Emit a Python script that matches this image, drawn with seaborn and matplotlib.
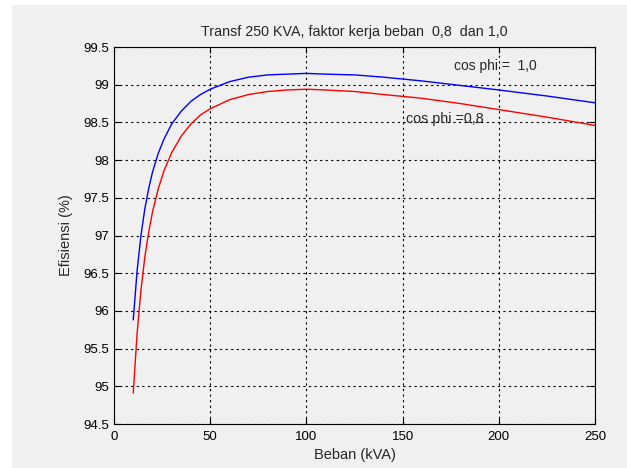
import numpy as np
import pandas as pd
import seaborn as sns
import matplotlib.pyplot as plt
from matplotlib.patches import Rectangle

# Load (kVA) and efficiency (%)
beban = [10, 12, 14, 16, 18, 20, 23, 26, 30, 35, 40, 45, 50, 60, 70, 80, 90,
         100, 110, 125, 140, 160, 180, 200, 225, 250]
eff_pf10 = [95.88, 96.53, 97.00, 97.35, 97.62, 97.84, 98.09, 98.28, 98.48, 98.65,
            98.78, 98.87, 98.94, 99.04, 99.10, 99.13, 99.14, 99.15, 99.14, 99.13,
            99.10, 99.05, 98.99, 98.93, 98.85, 98.76]
eff_pf08 = [94.91, 95.70, 96.27, 96.71, 97.04, 97.31, 97.62, 97.86, 98.10, 98.32,
            98.48, 98.60, 98.68, 98.80, 98.87, 98.91, 98.93, 98.94, 98.93, 98.91,
            98.87, 98.82, 98.75, 98.67, 98.57, 98.46]

title = 'Transf 250 KVA, faktor kerja beban  0,8  dan 1,0'
xticks = [0, 50, 100, 150, 200, 250]
yticks = [94.5, 95, 95.5, 96, 96.5, 97, 97.5, 98, 98.5, 99, 99.5]

df = pd.DataFrame({
    'Beban': beban + beban,
    'Eff': eff_pf10 + eff_pf08,
    'pf': ['1,0'] * len(beban) + ['0,8'] * len(beban),
})

sns.set_style('ticks')
plt.rcParams['font.family'] = ['Liberation Sans', 'DejaVu Sans']
bg = '#f0f0f0'

fig = plt.figure(figsize=(6.27, 4.68), dpi=100, facecolor=bg)
# thin white strip on the top and left like the screenshot
fig.patches.append(Rectangle((0, 0), 12 / 627, 1, transform=fig.transFigure,
                             facecolor='white', edgecolor='none', zorder=-10))
fig.patches.append(Rectangle((0, 463 / 468), 1, 5 / 468, transform=fig.transFigure,
                             facecolor='white', edgecolor='none', zorder=-10))
ax = fig.add_axes([114 / 627, 44 / 468, 481 / 627, 377 / 468])
ax.set_facecolor(bg)

sns.lineplot(data=df, x='Beban', y='Eff', hue='pf',
             palette={'1,0': '#0000ff', '0,8': '#ff0000'},
             linewidth=1.0, legend=False, ax=ax)

ax.set_xlim(0, 250)
ax.set_ylim(94.5, 99.5)
ax.set_xticks(xticks)
ax.set_yticks(yticks)
ax.set_xticklabels([str(t) for t in xticks])
ax.set_yticklabels([('%g' % t) for t in yticks])
ax.grid(True, color='black', linestyle=(0, (2, 3)), linewidth=0.8)
ax.tick_params(direction='in', length=4, labelsize=9.5, top=True, right=True,
               colors='black')
ax.tick_params(axis='x', pad=5)
ax.tick_params(axis='y', pad=3.5)
for s in ax.spines.values():
    s.set_visible(True)
    s.set_color('black')
    s.set_linewidth(0.8)

ax.set_title(title, fontsize=10.3, pad=8)
ax.set_xlabel('Beban (kVA)', fontsize=10.5, va='center')
ax.xaxis.set_label_coords(0.5, (424 - 455) / 377)
ax.set_ylabel('Efisiensi (%)', fontsize=10.5, va='center')
ax.yaxis.set_label_coords((66 - 114) / 481, 0.5)

ax.text(176.7, 99.25, 'cos phi =  1,0', fontsize=10, va='center', ha='left')
ax.text(151.8, 98.54, 'cos phi =0,8', fontsize=10.3, va='center', ha='left')

fig.savefig('out.png', dpi=100, facecolor=fig.get_facecolor())
